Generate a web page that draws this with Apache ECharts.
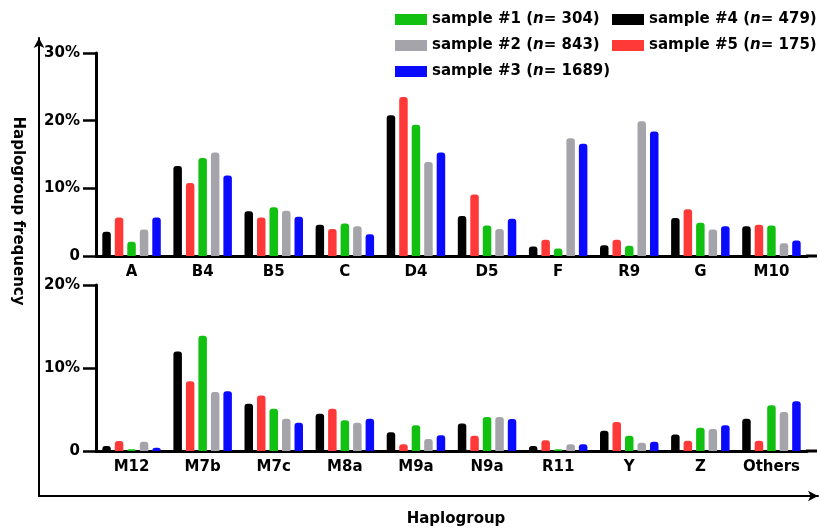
<!DOCTYPE html>
<html><head><meta charset="utf-8">
<script src="https://cdn.jsdelivr.net/npm/echarts/dist/echarts.min.js"></script>
<style>html,body{margin:0;padding:0;background:#fff}#c{width:820px;height:530px}</style>
</head><body><div id="c"></div>
<script>
const topCats = ['A','B4','B5','C','D4','D5','F','R9','G','M10'];
const bottomCats = ['M12','M7b','M7c','M8a','M9a','N9a','R11','Y','Z','Others'];
const sampleNames = ['sample #1','sample #2','sample #3','sample #4','sample #5'];
const sampleSizes = [304, 843, 1689, 479, 175];
const sampleColors = ['#12c012','#a4a4aa','#0a0aff','#000000','#ff3838'];
// top panel (%)
const s1Top = [2.1,14.5,7.2,4.8,19.4,4.5,1.1,1.5,4.9,4.5];
const s2Top = [3.9,15.3,6.7,4.4,13.9,4.0,17.4,19.9,3.9,1.9];
const s3Top = [5.7,11.9,5.8,3.2,15.3,5.5,16.6,18.4,4.4,2.3];
const s4Top = [3.6,13.3,6.6,4.6,20.8,5.9,1.4,1.6,5.6,4.4];
const s5Top = [5.7,10.8,5.7,4.0,23.5,9.1,2.4,2.4,6.9,4.6];
// bottom panel (%)
const s1Bot = [0.2,13.9,5.1,3.7,3.1,4.1,0.2,1.85,2.8,5.5];
const s2Bot = [1.1,7.1,3.9,3.4,1.45,4.1,0.8,1.0,2.65,4.7];
const s3Bot = [0.4,7.2,3.4,3.9,1.9,3.85,0.8,1.1,3.1,6.0];
const s4Bot = [0.6,12.0,5.7,4.5,2.25,3.3,0.6,2.45,2.0,3.9];
const s5Bot = [1.2,8.4,6.7,5.1,0.8,1.85,1.3,3.5,1.25,1.25];

const FONT = 'DejaVu Sans';
const txt = {fontFamily: FONT, fontWeight: 'bold', fontSize: 15, color: '#000'};

const topData = [s1Top, s2Top, s3Top, s4Top, s5Top];
const botData = [s1Bot, s2Bot, s3Bot, s4Bot, s5Bot];
const order = [3, 4, 0, 1, 2]; // #4, #5, #1, #2, #3

function catAxis(idx, cats) {
  return {
    type: 'category', gridIndex: idx, data: cats,
    axisLine: {lineStyle: {color: '#000', width: 3}},
    axisTick: {alignWithLabel: true, length: 4, lineStyle: {color: '#000', width: 2.5}},
    axisLabel: Object.assign({margin: 9, interval: 0}, txt),
    splitLine: {show: false}
  };
}
function valAxis(idx, max) {
  return {
    type: 'value', gridIndex: idx, min: 0, max: max, interval: 10,
    axisLine: {show: true, lineStyle: {color: '#000', width: 3}},
    axisTick: {show: true, length: 13, lineStyle: {color: '#000', width: 2.5}},
    axisLabel: Object.assign({margin: 16, formatter: v => v === 0 ? '0' : v + '%'}, txt),
    splitLine: {show: false}
  };
}

const series = [];
order.forEach(k => {
  series.push({name: sampleNames[k], type: 'bar', xAxisIndex: 0, yAxisIndex: 0,
    data: topData[k], barWidth: 8.5, barGap: '47%',
    itemStyle: {color: sampleColors[k], borderRadius: [3,3,0,0]}});
});
order.forEach(k => {
  series.push({name: sampleNames[k], type: 'bar', xAxisIndex: 1, yAxisIndex: 1,
    data: botData[k], barWidth: 8.5, barGap: '47%',
    itemStyle: {color: sampleColors[k], borderRadius: [3,3,0,0]}});
});

const legendBase = {
  orient: 'vertical', icon: 'rect', itemWidth: 32, itemHeight: 11, itemGap: 11, padding: 0,
  formatter: name => {
    const i = sampleNames.indexOf(name);
    return '{b|' + name + ' (}{i|n}{b|= ' + sampleSizes[i] + ')}';
  },
  textStyle: {rich: {
    b: {fontFamily: FONT, fontWeight: 'bold', fontSize: 15, color: '#000', lineHeight: 16},
    i: {fontFamily: FONT, fontWeight: 'bold', fontStyle: 'italic', fontSize: 15, color: '#000', lineHeight: 16}
  }},
  selectedMode: false
};

const option = {
  animation: false,
  backgroundColor: '#fff',
  legend: [
    Object.assign({left: 395, top: 12, data: ['sample #1','sample #2','sample #3']}, legendBase),
    Object.assign({left: 612, top: 12, data: ['sample #4','sample #5']}, legendBase)
  ],
  grid: [
    {left: 96, top: 53, width: 711, height: 203},
    {left: 96, top: 285, width: 711, height: 166},
    {left: 39, top: 38, right: 2, bottom: 34}
  ],
  xAxis: [
    catAxis(0, topCats),
    catAxis(1, bottomCats),
    {type: 'value', gridIndex: 2, min: 0, max: 1,
     axisLine: {show: true, symbol: ['none','arrow'], symbolSize: [8, 10], lineStyle: {color: '#000', width: 2}},
     axisTick: {show: false}, axisLabel: {show: false}, splitLine: {show: false}}
  ],
  yAxis: [
    valAxis(0, 30),
    valAxis(1, 20),
    {type: 'value', gridIndex: 2, min: 0, max: 1,
     axisLine: {show: true, symbol: ['none','arrow'], symbolSize: [8, 10], lineStyle: {color: '#000', width: 2}},
     axisTick: {show: false}, axisLabel: {show: false}, splitLine: {show: false}}
  ],
  graphic: [
    {type: 'text', x: 18, y: 211, rotation: -Math.PI / 2,
     style: {text: 'Haplogroup frequency', fontFamily: FONT, fontWeight: 'bold', fontSize: 15, fill: '#000', align: 'center', verticalAlign: 'middle'}},
    {type: 'text', x: 456, y: 519,
     style: {text: 'Haplogroup', fontFamily: FONT, fontWeight: 'bold', fontSize: 15, fill: '#000', align: 'center', verticalAlign: 'middle'}},
    {type: 'line', shape: {x1: 806, y1: 256, x2: 817, y2: 256}, style: {stroke: '#000', lineWidth: 3}},
    {type: 'line', shape: {x1: 806, y1: 451, x2: 817, y2: 451}, style: {stroke: '#000', lineWidth: 3}}
  ],
  series: series
};

const chart = echarts.init(document.getElementById('c'), null, {renderer: 'canvas'});
chart.setOption(option);
</script>
</body></html>
